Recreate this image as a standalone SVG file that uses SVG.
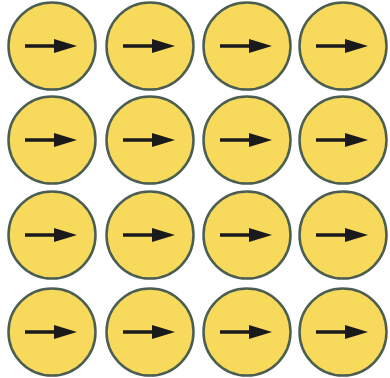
<svg xmlns="http://www.w3.org/2000/svg" width="390" height="378" viewBox="0 0 390 378">
<style>
.c{fill:#f7d95c;stroke:#4b5e52;stroke-width:2.5}
.s{stroke:#1a1a1a;stroke-width:3.5;fill:none}
.h{fill:#1a1a1a}
</style>
<defs>
<g id="n">
<circle class="c" cx="0" cy="0" r="43.5"/>
<line class="s" x1="-27" y1="0" x2="4" y2="0"/>
<polygon class="h" points="2,-7 25,0 2,7"/>
</g>
</defs>
<rect width="390" height="378" fill="#ffffff"/>
<g id="r1c1" transform="translate(52,46)"><use href="#n"/></g>
<g id="r1c2" transform="translate(150,46)"><use href="#n"/></g>
<g id="r1c3" transform="translate(247,46)"><use href="#n"/></g>
<g id="r1c4" transform="translate(343,46)"><use href="#n"/></g>
<g id="r2c1" transform="translate(52,140)"><use href="#n"/></g>
<g id="r2c2" transform="translate(150,140)"><use href="#n"/></g>
<g id="r2c3" transform="translate(247,140)"><use href="#n"/></g>
<g id="r2c4" transform="translate(343,140)"><use href="#n"/></g>
<g id="r3c1" transform="translate(52,235)"><use href="#n"/></g>
<g id="r3c2" transform="translate(150,235)"><use href="#n"/></g>
<g id="r3c3" transform="translate(247,235)"><use href="#n"/></g>
<g id="r3c4" transform="translate(343,235)"><use href="#n"/></g>
<g id="r4c1" transform="translate(52,332)"><use href="#n"/></g>
<g id="r4c2" transform="translate(150,332)"><use href="#n"/></g>
<g id="r4c3" transform="translate(247,332)"><use href="#n"/></g>
<g id="r4c4" transform="translate(343,332)"><use href="#n"/></g>
</svg>
